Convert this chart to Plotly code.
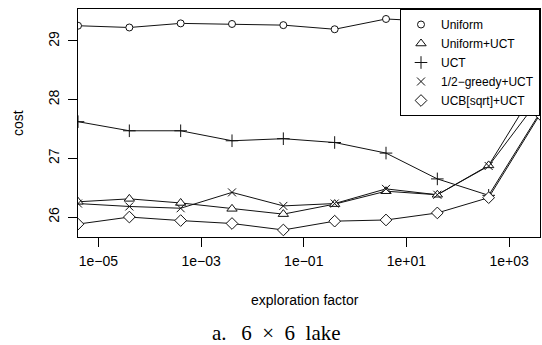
import plotly.graph_objects as go

# exploration factor values (log scale)
x_vals = [4e-06, 4e-05, 4e-04, 4e-03, 4e-02, 4e-01, 4e+00, 4e+01, 4e+02, 4e+03]

series_names = ["Uniform", "Uniform+UCT", "UCT", "1/2\u2212greedy+UCT", "UCB[sqrt]+UCT"]
uniform = [29.26, 29.23, 29.30, 29.29, 29.27, 29.20, 29.375, 29.33, 29.45, 29.6]
uniform_uct = [26.26, 26.31, 26.24, 26.14, 26.05, 26.22, 26.44, 26.38, 26.88, 28.3]
uct = [27.625, 27.47, 27.47, 27.30, 27.335, 27.27, 27.09, 26.65, 26.37, 27.78]
greedy_uct = [26.23, 26.18, 26.15, 26.42, 26.19, 26.23, 26.48, 26.38, 26.87, 28.03]
ucb_uct = [25.88, 26.00, 25.94, 25.89, 25.78, 25.93, 25.95, 26.07, 26.33, 27.75]

x_tickvals = [1e-05, 1e-03, 1e-01, 1e+01, 1e+03]
x_ticktext = ["1e\u221205", "1e\u221203", "1e\u221201", "1e+01", "1e+03"]
y_tickvals = [26, 27, 28, 29]

all_series = [uniform, uniform_uct, uct, greedy_uct, ucb_uct]
symbols = ["circle", "triangle-up", "cross-thin", "x-thin", "diamond"]
sizes = [7, 9, 9, 8, 9]

SANS = "Liberation Sans"
SERIF = "Liberation Serif"

fig = go.Figure()
for name, ys in zip(series_names, all_series):
    fig.add_trace(go.Scatter(x=x_vals, y=ys, mode="lines",
                             line=dict(color="#111", width=1),
                             showlegend=False, hoverinfo="skip"))
for name, ys, sym, sz in zip(series_names, all_series, symbols, sizes):
    fig.add_trace(go.Scatter(x=x_vals, y=ys, mode="markers", name=name,
                             marker=dict(symbol=sym, size=sz, color="white",
                                         line=dict(color="#111", width=1))))

fig.update_layout(
    width=542, height=345,
    margin=dict(l=78, r=2, t=9, b=108, autoexpand=False),
    paper_bgcolor="white", plot_bgcolor="white",
    font=dict(family=SANS, size=14, color="black"),
    showlegend=True,
    legend=dict(x=1, xanchor="right", y=1, yanchor="top",
                bgcolor="white", bordercolor="black", borderwidth=1,
                font=dict(family=SANS, size=12, color="black"),
                itemwidth=30, tracegroupgap=0, traceorder="normal"),
    xaxis=dict(type="log", range=[-5.398, 3.602], automargin=False,
               tickvals=x_tickvals, ticktext=x_ticktext,
               ticks="outside", ticklen=9, tickcolor="black", tickwidth=1,
               ticklabelstandoff=2,
               showline=True, linecolor="black", linewidth=1, mirror=True,
               showgrid=False, zeroline=False,
               tickfont=dict(family=SANS, size=14)),
    yaxis=dict(range=[25.66, 29.545], tickvals=y_tickvals, automargin=False,
               ticks="outside", ticklen=9, tickcolor="black", tickwidth=1,
               tickangle=-90, ticklabelstandoff=3,
               showline=True, linecolor="black", linewidth=1, mirror=True,
               showgrid=False, zeroline=False,
               tickfont=dict(family=SANS, size=14)),
    annotations=[
        dict(text="exploration factor", xref="paper", yref="paper",
             x=0.491, y=-0.276, xanchor="center", yanchor="middle",
             showarrow=False, font=dict(family=SANS, size=14)),
        dict(text="cost", xref="paper", yref="paper",
             x=-0.13, y=0.5, xanchor="center", yanchor="middle",
             textangle=-90, showarrow=False, font=dict(family=SANS, size=14)),
        dict(text="a.\u2002\u20096\u2002\u00d7\u20026\u2002lake", xref="paper", yref="paper",
             x=0.4286, y=-0.42, xanchor="center", yanchor="middle",
             showarrow=False, font=dict(family=SERIF, size=21)),
    ],
)

fig.write_html("out.html", config={"displayModeBar": False},
               post_script="document.body.style.margin='0px';document.body.style.overflow='hidden';")
